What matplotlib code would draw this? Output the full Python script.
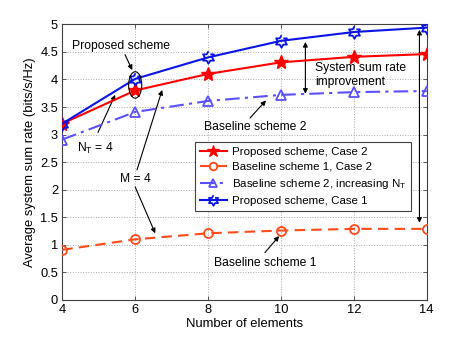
import numpy as np
import matplotlib

matplotlib.use("Agg")

import matplotlib.pyplot as plt  # noqa: E402
from matplotlib.patches import Ellipse  # noqa: E402

plt.rcParams["font.family"] = ["Liberation Sans", "DejaVu Sans"]
plt.rcParams["mathtext.fontset"] = "custom"
plt.rcParams["mathtext.rm"] = "Liberation Sans"
plt.rcParams["mathtext.it"] = "Liberation Sans"

elements = [4, 6, 8, 10, 12, 14]
proposed_case2 = [3.20, 3.80, 4.10, 4.31, 4.41, 4.46]
baseline1_case2 = [0.91, 1.10, 1.21, 1.26, 1.29, 1.29]
baseline2_nt = [2.91, 3.41, 3.61, 3.72, 3.77, 3.79]
proposed_case1 = [3.20, 4.01, 4.40, 4.70, 4.86, 4.94]

legend_labels = [
    "Proposed scheme, Case 2",
    "Baseline scheme 1, Case 2",
    "Baseline scheme 2, increasing N$_\\mathrm{T}$",
    "Proposed scheme, Case 1",
]

# six-pointed star marker (MATLAB hexagram)
ang_out = np.deg2rad(90 + 60 * np.arange(6))
ang_in = ang_out + np.deg2rad(30)
hexagram = []
for a, b in zip(ang_out, ang_in):
    hexagram.append((np.cos(a), np.sin(a)))
    hexagram.append((np.cos(b) / np.sqrt(3), np.sin(b) / np.sqrt(3)))

fig = plt.figure(figsize=(4.71, 3.37), dpi=100)
ax = fig.add_axes([0.1323, 0.1098, 0.7737, 0.8181])

ax.plot(elements, proposed_case2, color="#FF0000", lw=1.5, marker="*",
        ms=10, mfc="#FF0000", mec="#FF0000", label=legend_labels[0], zorder=4)
ax.plot(elements, baseline1_case2, color="#FF4A1A", lw=1.5, ls=(0, (5, 3)),
        marker="o", ms=6.5, mfc="none", mew=1.3, label=legend_labels[1], zorder=4)
ax.plot(elements, baseline2_nt, color="#5A50FF", lw=1.5, ls=(0, (7, 2.5, 1.5, 2.5)),
        marker="^", ms=7, mfc="none", mew=1.3, label=legend_labels[2], zorder=4)
ax.plot(elements, proposed_case1, color="#0A14E6", lw=1.5, marker=hexagram,
        ms=9, mfc="none", mew=1.3, label=legend_labels[3], zorder=5)

ax.set_xlim(4, 14)
ax.set_ylim(0, 5)
ax.set_xticks(np.arange(4, 15, 2))
ax.set_yticks(np.arange(0, 5.01, 0.5))
ax.set_yticklabels(["0", "0.5", "1", "1.5", "2", "2.5", "3", "3.5", "4", "4.5", "5"])
ax.grid(True, ls=":", color="#A8A8A8", lw=0.7)
ax.tick_params(direction="in", top=True, right=True, labelsize=9.3,
               length=3, width=0.6, color="#404040", pad=3)
for sp in ax.spines.values():
    sp.set_color("#404040")
    sp.set_linewidth(0.8)

ax.set_xlabel("Number of elements", fontsize=9.4, labelpad=1)
ax.set_ylabel("Average system sum rate (bits/s/Hz)", fontsize=9.4, labelpad=3)

arrow = dict(arrowstyle="-|>", color="black", lw=0.8, mutation_scale=7,
             shrinkA=0, shrinkB=0)
darrow = dict(arrowstyle="<|-|>", color="black", lw=0.8, mutation_scale=7,
              shrinkA=0, shrinkB=0)
fs = 8.75

ax.add_patch(Ellipse((6.0, 3.9), 0.36, 0.48, fill=False, ec="black", lw=0.8, zorder=6))
ax.text(5.61, 4.61, "Proposed scheme", fontsize=fs, ha="center", va="center")
ax.annotate("", xy=(5.92, 4.17), xytext=(5.72, 4.45), arrowprops=arrow)

ax.text(4.90, 2.75, "N$_\\mathrm{T}$ = 4", fontsize=fs, ha="center", va="center")
ax.annotate("", xy=(5.45, 3.72), xytext=(4.98, 3.04), arrowprops=arrow)

ax.text(6.0, 2.19, "M = 4", fontsize=fs, ha="center", va="center")
ax.annotate("", xy=(6.74, 3.81), xytext=(6.05, 2.36), arrowprops=arrow)
ax.annotate("", xy=(6.55, 1.21), xytext=(6.0, 2.05), arrowprops=arrow)

ax.text(9.29, 3.13, "Baseline scheme 2", fontsize=fs, ha="center", va="center")
ax.annotate("", xy=(9.59, 3.62), xytext=(9.15, 3.30), arrowprops=arrow)

ax.text(10.94, 4.08, "System sum rate\nimprovement", fontsize=fs, ha="left",
        va="center", linespacing=1.25)
ax.annotate("", xy=(10.67, 4.68), xytext=(10.67, 3.74), arrowprops=darrow)
ax.annotate("", xy=(13.8, 4.90), xytext=(13.8, 1.40), arrowprops=darrow)

ax.text(9.56, 0.67, "Baseline scheme 1", fontsize=fs, ha="center", va="center")
ax.annotate("", xy=(9.95, 1.16), xytext=(9.56, 0.86), arrowprops=arrow)

leg = ax.legend(loc="upper left", bbox_to_anchor=(0.364, 0.573), fontsize=8.25,
                fancybox=False, framealpha=1, edgecolor="#404040",
                handlelength=2.4, borderpad=0.4, labelspacing=0.45,
                handletextpad=0.4, borderaxespad=0)
leg.get_frame().set_linewidth(0.8)
leg.set_zorder(7)
for handle, size in zip(leg.legend_handles, [9, 5.5, 6, 7.5]):
    handle.set_markersize(size)

fig.savefig("out.png", dpi=100)
